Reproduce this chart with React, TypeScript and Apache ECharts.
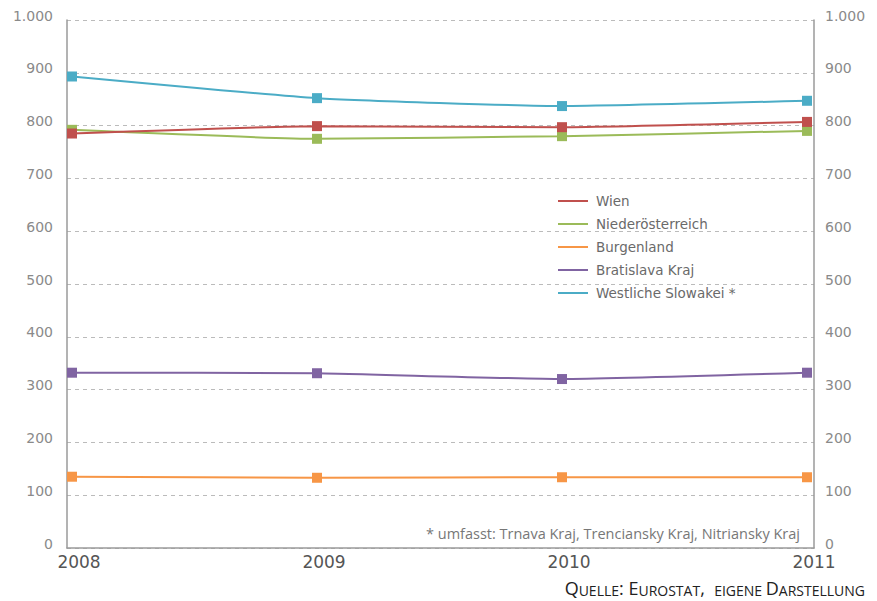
import React, { useEffect, useRef } from "react";
import * as echarts from "echarts";

const years = [2008, 2009, 2010, 2011];
const wien = [785, 799, 797, 807];
const niederoesterreich = [792, 775, 780, 790];
const burgenland = [135, 133, 134, 134];
const bratislava = [332, 331, 320, 332];
const westSlowakei = [893, 852, 837, 847];

const seriesDefs = [
  { name: "Niederösterreich", data: niederoesterreich, color: "#9BBB59" },
  { name: "Wien", data: wien, color: "#C0504D" },
  { name: "Burgenland", data: burgenland, color: "#F79646" },
  { name: "Bratislava Kraj", data: bratislava, color: "#8064A2" },
  { name: "Westliche Slowakei *", data: westSlowakei, color: "#4BACC6" },
];
const legendOrder = ["Wien", "Niederösterreich", "Burgenland", "Bratislava Kraj", "Westliche Slowakei *"];

const fmt = (v: number) => (v >= 1000 ? String(v).replace(/(\d)(\d{3})$/, "$1.$2") : String(v));

export default function App() {
  const ref = useRef<HTMLDivElement>(null);
  useEffect(() => {
    const chart = echarts.init(ref.current!, null, { renderer: "svg" });
    const font = "DejaVu Sans";
    const yLabel = (margin: number) => ({
      formatter: fmt,
      fontFamily: font,
      fontSize: 14,
      color: "#8a8a8a",
      margin,
      verticalAlign: "bottom",
      lineHeight: 9,
    });
    chart.setOption({
      animation: false,
      backgroundColor: "#ffffff",
      grid: { left: 67, right: 63, top: 20, bottom: 53, containLabel: false },
      legend: {
        orient: "vertical",
        left: 553,
        top: 189,
        icon: "rect",
        itemWidth: 30,
        itemHeight: 2,
        itemGap: 9,
        data: legendOrder,
        textStyle: { fontFamily: font, fontSize: 13.5, color: "#6a6a6a", lineHeight: 14, padding: [0, 0, 0, 3] },
      },
      xAxis: {
        type: "value",
        min: 2008 - 5 / 245,
        max: 2011 + 7 / 245,
        splitLine: { show: false },
        axisTick: { show: false },
        axisLine: { show: true, lineStyle: { color: "#9a9a9a", width: 1.5 } },
        axisLabel: {
          customValues: years,
          formatter: (v: number) => String(Math.round(v)),
          fontFamily: font,
          fontSize: 17,
          color: "#555555",
          margin: 5,
          padding: [0, 0, 0, 14],
        },
      },
      yAxis: [
        {
          type: "value",
          position: "left",
          min: 0,
          max: 1000,
          interval: 100,
          axisLine: { show: true, lineStyle: { color: "#9a9a9a", width: 1.5 } },
          axisTick: { show: false },
          splitLine: { show: true, lineStyle: { color: "#bbbbbb", type: [4, 4], width: 1 } },
          axisLabel: yLabel(14),
        },
        {
          type: "value",
          position: "right",
          min: 0,
          max: 1000,
          interval: 100,
          axisLine: { show: true, lineStyle: { color: "#9a9a9a", width: 1.5 } },
          axisTick: { show: false },
          splitLine: { show: false },
          axisLabel: yLabel(11),
        },
      ],
      series: seriesDefs.map((s) => ({
        name: s.name,
        type: "line",
        yAxisIndex: 0,
        data: years.map((y, i) => [y, s.data[i]]),
        smooth: 0.15,
        symbol: "rect",
        symbolSize: 10,
        showSymbol: true,
        lineStyle: { color: s.color, width: 2 },
        itemStyle: { color: s.color },
      })),
      graphic: [
        {
          type: "text",
          x: 800,
          y: 533,
          style: {
            text: "* umfasst: Trnava Kraj, Trenciansky Kraj, Nitriansky Kraj",
            fontFamily: "Open Sans",
            fontSize: 14.5,
            fill: "#777777",
            align: "right",
            verticalAlign: "middle",
          },
        },
        {
          type: "text",
          x: 865,
          y: 588,
          style: {
            text: "{b|Q}{s|UELLE}{b|: E}{s|UROSTAT}{b|,  }{s|EIGENE }{b|D}{s|ARSTELLUNG}",
            align: "right",
            verticalAlign: "middle",
            rich: {
              b: { fontFamily: "Open Sans", fontSize: 18, fill: "#222222", verticalAlign: "bottom" },
              s: { fontFamily: "Open Sans", fontSize: 14, fill: "#222222", verticalAlign: "bottom" },
            },
          },
        },
      ],
    });
    return () => chart.dispose();
  }, []);
  return (
    <div
      ref={ref}
      style={{ position: "fixed", left: 0, top: 0, width: 877, height: 601, background: "#fff" }}
    />
  );
}
